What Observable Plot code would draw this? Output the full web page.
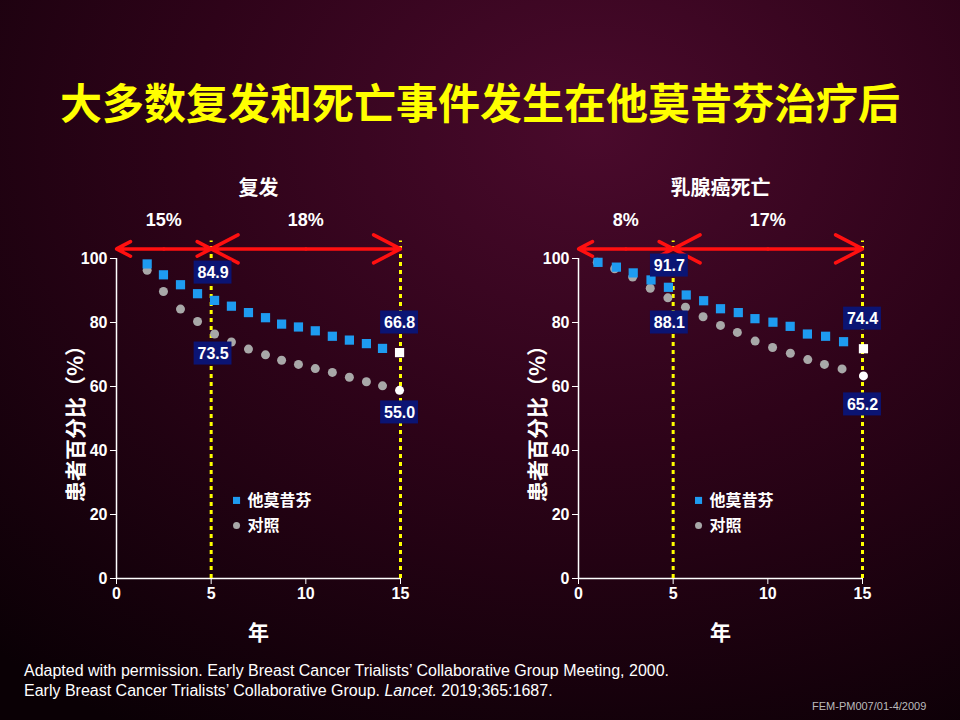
<!DOCTYPE html>
<html><head><meta charset="utf-8">
<script src="https://cdn.jsdelivr.net/npm/d3@7"></script>
<script src="https://cdn.jsdelivr.net/npm/@observablehq/plot@0.6"></script>
<style>
body{margin:0;width:960px;height:720px;overflow:hidden;position:relative;font-family:"Noto Sans CJK SC","Liberation Sans",sans-serif;
background:radial-gradient(ellipse 900px 700px at 62% 18%,#4a0a2c 0%,#2e0319 45%,#0a0005 100%);}
.t{position:absolute;color:#fff;font-weight:bold;white-space:nowrap}
#title{left:0;width:960px;text-align:center;top:70px;font-size:42px;color:#ffff00}
.foot{position:absolute;left:24px;color:#fff;font-size:16px;font-family:"Liberation Sans",Arial,sans-serif}
.p{position:absolute}
</style></head><body>
<div id="title" class="t">大多数复发和死亡事件发生在他莫昔芬治疗后</div>
<div id="L" class="p" style="left:40px;top:160px"></div>
<div id="R" class="p" style="left:502px;top:160px"></div>
<div class="foot" style="top:662px">Adapted with permission. Early Breast Cancer Trialists’ Collaborative Group Meeting, 2000.</div>
<div class="foot" style="top:682px">Early Breast Cancer Trialists’ Collaborative Group. <i>Lancet.</i> 2019;365:1687.</div>
<div class="foot" style="left:812px;top:700px;font-size:11px;color:#bbb">FEM-PM007/01-4/2009</div>
<script>
// Left panel: 复发
const leftYears=[1.62,2.48,3.38,4.28,5.18,6.07,6.97,7.87,8.72,9.61,10.5,11.4,12.3,13.2,14.05,14.95];
const leftTam=[98.3,94.9,91.8,89.0,86.9,85.1,83.1,81.5,79.5,78.6,77.4,75.7,74.5,73.4,71.9,70.6];
const leftCtrl=[96.3,89.7,84.2,80.3,76.4,73.9,71.7,69.9,68.2,66.9,65.6,64.4,62.9,61.5,60.2,58.8];
const leftLabels=[{x:5.1,y:95.6,t:"84.9"},{x:5.1,y:70.3,t:"73.5"},{x:14.95,y:80,t:"66.8"},{x:14.95,y:51.9,t:"55.0"}];
const leftPct=["15%","18%"];
// Right panel: 乳腺癌死亡
const rightYearsTam=[1.03,2.0,2.89,3.83,4.75,5.69,6.61,7.5,8.44,9.32,10.27,11.18,12.09,13.05,14.0,15.05];
const rightTam=[98.8,97.3,95.5,93.3,91.0,88.6,86.8,84.3,83.1,81.2,80.1,78.8,76.4,75.7,74.0,71.8];
const rightYearsCtrl=[0.99,1.91,2.86,3.79,4.72,5.65,6.58,7.5,8.39,9.33,10.25,11.19,12.11,12.99,13.92,15.05];
const rightCtrl=[98.8,96.8,94.2,90.7,87.7,84.8,81.8,79.1,76.9,74.2,72.2,70.4,68.4,66.9,65.5,63.3];
const rightLabels=[{x:4.8,y:97.8,t:"91.7"},{x:4.8,y:80,t:"88.1"},{x:15,y:81.2,t:"74.4"},{x:15,y:54.4,t:"65.2"}];
const rightPct=["8%","17%"];
const xTicks=[0,5,10,15], yTicks=[0,20,40,60,80,100];

function panel(years,tam,yearsC,ctrl,labels,title,pct,ml,w){
  const n=tam.length;
  const tamD=tam.map((v,i)=>({x:years[i],y:v,last:i===n-1}));
  const ctrlD=ctrl.map((v,i)=>({x:yearsC[i],y:v,last:i===n-1}));
  const arr=[{x1:2.5,x2:0},{x1:2.5,x2:5},{x1:10,x2:5},{x1:10,x2:15}];
  return Plot.plot({
    width:w,height:480,marginLeft:ml,marginRight:w-ml-284,marginTop:98,marginBottom:62,
    style:{background:"transparent",color:"#fff",fontFamily:"Liberation Sans, Arial, sans-serif",fontWeight:"bold",fontSize:"16px",overflow:"visible"},
    x:{domain:[0,15],ticks:xTicks,label:null},
    y:{domain:[0,100],ticks:yTicks,label:null},
    marks:[
      Plot.axisX({ticks:xTicks,tickSize:6,stroke:"#fff",fontSize:16,fontWeight:"bold",label:null}),
      Plot.axisY({ticks:yTicks,tickSize:6,stroke:"#fff",fontSize:16,fontWeight:"bold",label:null}),
      Plot.ruleX([0],{stroke:"#fff",strokeWidth:1.5}),
      Plot.ruleY([0],{stroke:"#fff",strokeWidth:1.5}),
      Plot.ruleX([5,15],{y1:0,y2:105.5,stroke:"#ffff00",strokeWidth:3,strokeDasharray:"4,4"}),
      Plot.arrow(arr,{x1:"x1",x2:"x2",y1:103,y2:103,stroke:"#ff1010",strokeWidth:3.5,headLength:13,headAngle:55}),
      Plot.dot(ctrlD,{x:"x",y:"y",r:4.5,fill:d=>d.last?"#fff":"#a8a8a8"}),
      Plot.dot(tamD,{x:"x",y:"y",symbol:"square",r:5.2,fill:d=>d.last?"#fff":"#1e9bf0"}),
      Plot.rect(labels,{x1:d=>d.x-1.0,x2:d=>d.x+1.0,y1:d=>d.y-3.6,y2:d=>d.y+3.6,fill:"#0b1473"}),
      Plot.text(labels,{x:"x",y:"y",text:"t",fill:"#fff",fontSize:16,fontWeight:"bold"}),
      Plot.dot([{x:6.34,y:24.4}],{x:"x",y:"y",symbol:"square",r:4,fill:"#1e9bf0"}),
      Plot.dot([{x:6.34,y:16.6}],{x:"x",y:"y",r:3.5,fill:"#a8a8a8"}),
      Plot.text([{x:6.34,y:24.4,t:"他莫昔芬"},{x:6.34,y:16.6,t:"对照"}],{x:"x",y:"y",text:"t",dx:11,textAnchor:"start",fill:"#fff",fontSize:16,fontFamily:"Noto Sans CJK SC"}),
      Plot.text([{x:7.5,t:title}],{x:"x",y:()=>122,text:"t",fill:"#fff",fontSize:20,fontFamily:"Noto Sans CJK SC"}),
      Plot.text([{x:2.5,t:pct[0]},{x:10,t:pct[1]}],{x:"x",y:()=>112,text:"t",fill:"#fff",fontSize:18}),
      Plot.text([{x:7.5,t:"年"}],{x:"x",y:()=>-17,text:"t",fill:"#fff",fontSize:21,fontFamily:"Noto Sans CJK SC"}),
      Plot.text([{y:50,t:"患者百分比（%）"}],{x:()=>-2.1,y:"y",text:"t",rotate:-90,fill:"#fff",fontSize:21,fontFamily:"Noto Sans CJK SC"})
    ]
  });
}
document.getElementById("L").appendChild(panel(leftYears,leftTam,leftYears,leftCtrl,leftLabels,"复发",leftPct,76,400));
document.getElementById("R").appendChild(panel(rightYearsTam,rightTam,rightYearsCtrl,rightCtrl,rightLabels,"乳腺癌死亡",rightPct,76,400));
</script></body></html>
